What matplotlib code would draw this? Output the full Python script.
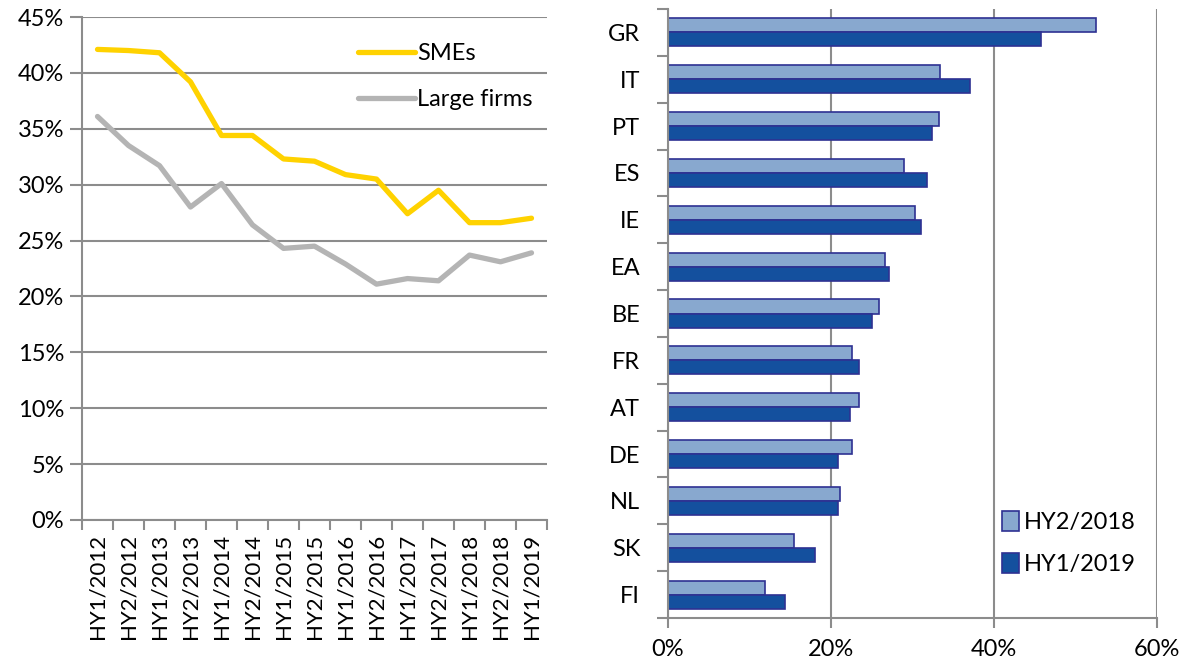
import numpy as np
import matplotlib
matplotlib.use('Agg')
import matplotlib.pyplot as plt

plt.rcParams['font.family'] = ['Lato', 'DejaVu Sans']

# Vänster diagram: andel (%) per halvår
periods = ['HY1/2012', 'HY2/2012', 'HY1/2013', 'HY2/2013', 'HY1/2014', 'HY2/2014',
           'HY1/2015', 'HY2/2015', 'HY1/2016', 'HY2/2016', 'HY1/2017', 'HY2/2017',
           'HY1/2018', 'HY2/2018', 'HY1/2019']
smes = [42.1, 42.0, 41.8, 39.2, 34.4, 34.4, 32.3, 32.1, 30.9, 30.5, 27.4, 29.5, 26.6, 26.6, 27.0]
large_firms = [36.1, 33.5, 31.7, 28.0, 30.1, 26.4, 24.3, 24.5, 22.9, 21.1, 21.6, 21.4, 23.7, 23.1, 23.9]

# Höger diagram: länder
countries = ['GR', 'IT', 'PT', 'ES', 'IE', 'EA', 'BE', 'FR', 'AT', 'DE', 'NL', 'SK', 'FI']
hy2_2018 = [52.5, 33.4, 33.2, 28.9, 30.3, 26.6, 25.9, 22.6, 23.4, 22.6, 21.1, 15.4, 11.9]
hy1_2019 = [45.8, 37.0, 32.4, 31.8, 31.1, 27.1, 25.0, 23.4, 22.3, 20.8, 20.8, 18.0, 14.4]

grid_col = '#8c8c8c'
fs = 17

fig = plt.figure(figsize=(11.82, 6.61), dpi=100)

# ---- vänster ----
ax1 = fig.add_axes([82 / 1182, 1 - 520 / 661, (547 - 82) / 1182, (520 - 17) / 661])
x = np.arange(len(periods))
ax1.plot(x, smes, color='#ffd200', lw=3.8, label='SMEs', solid_capstyle='round')
ax1.plot(x, large_firms, color='#b4b4b4', lw=3.8, label='Large firms', solid_capstyle='round')
ax1.set_xlim(-0.5, len(periods) - 0.5)
ax1.set_ylim(0, 45)
ax1.set_yticks(np.arange(0, 46, 5))
ax1.set_yticklabels([f'{v}%' for v in range(0, 46, 5)], fontsize=fs)
ax1.set_xticks(x)
ax1.set_xticklabels(periods, rotation=90, fontsize=16)
ax1.set_xticks(np.arange(-0.5, len(periods)), minor=True)
ax1.tick_params(axis='x', which='major', length=0, pad=10)
ax1.tick_params(axis='x', which='minor', length=7, color=grid_col, width=1.5)
ax1.tick_params(axis='y', length=9, color=grid_col, width=1.5, pad=4)
ax1.yaxis.grid(True, color=grid_col, lw=1.5)
ax1.set_axisbelow(True)
for s in ['top', 'right']:
    ax1.spines[s].set_visible(False)
for s in ['left', 'bottom']:
    ax1.spines[s].set_color(grid_col)
    ax1.spines[s].set_linewidth(1.5)
ax1.legend(loc='upper right', bbox_to_anchor=(1.015, 0.99), frameon=False, fontsize=fs,
           handlelength=2.4, handletextpad=0.1, labelspacing=1.05)

# ---- höger ----
ax2 = fig.add_axes([668 / 1182, 1 - 618 / 661, (1157 - 668) / 1182, (618 - 9) / 661])
y = np.arange(len(countries))[::-1]
ax2.barh(y + 0.15, hy2_2018, height=0.3, color='#88a8cf', edgecolor='#2e3192', lw=1.2,
         label='HY2/2018')
ax2.barh(y - 0.15, hy1_2019, height=0.3, color='#14509e', edgecolor='#2e3192', lw=1.2,
         label='HY1/2019')
ax2.set_ylim(-0.5, len(countries) - 0.5)
ax2.set_xlim(0, 60)
ax2.set_xticks([0, 20, 40, 60])
ax2.set_xticklabels(['0%', '20%', '40%', '60%'], fontsize=fs)
ax2.set_yticks(y)
ax2.set_yticklabels(countries, fontsize=fs)
ax2.set_yticks(np.arange(-0.5, len(countries)), minor=True)
ax2.tick_params(axis='y', which='major', length=0, pad=20)
ax2.tick_params(axis='y', which='minor', length=8, color=grid_col, width=1.5)
ax2.tick_params(axis='x', length=7, color=grid_col, width=1.5, pad=8)
ax2.xaxis.grid(True, color=grid_col, lw=1.5)
ax2.set_axisbelow(True)
for s in ['top', 'right']:
    ax2.spines[s].set_visible(False)
for s in ['left', 'bottom']:
    ax2.spines[s].set_color(grid_col)
    ax2.spines[s].set_linewidth(1.5)
ax2.legend(loc='lower right', bbox_to_anchor=(1.0, 0.035), frameon=False, fontsize=fs,
           handlelength=0.7, handleheight=0.9, handletextpad=0.2, labelspacing=0.85)

fig.savefig('out.png', dpi=100)
